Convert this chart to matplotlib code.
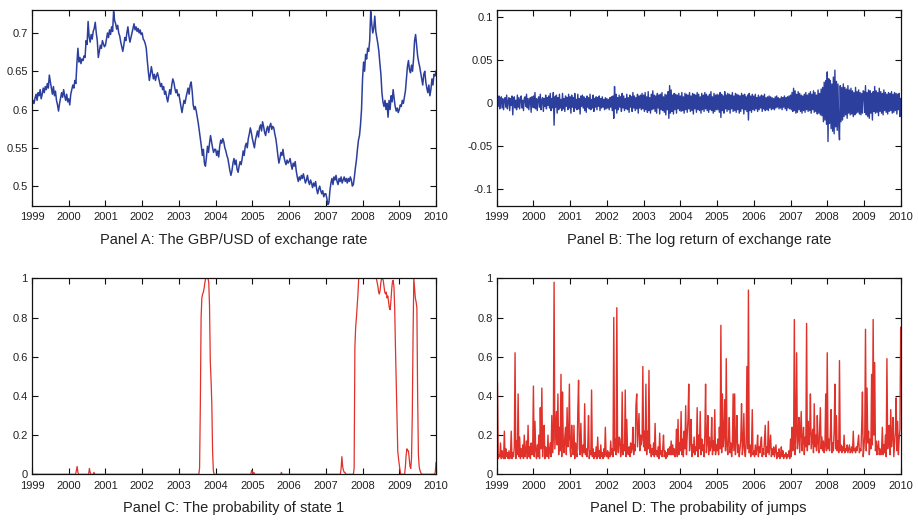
"""Four-panel GBP/USD figure: rate, log return, state-1 probability, jump probability."""

import matplotlib
matplotlib.use('Agg')
import matplotlib.pyplot as plt
import numpy as np

YEAR_TICKS = list(range(1999, 2011))
YEAR_START, YEAR_END = 1999, 2010

# Panel A: GBP per USD, ~36 readings per year, 1999 -> 2010
gbp_usd = [
    # 1999
    0.605, 0.612, 0.608, 0.615, 0.620, 0.612, 0.622, 0.618, 0.626, 0.614, 0.620, 0.628,
    0.622, 0.630, 0.626, 0.634, 0.628, 0.645, 0.636, 0.628, 0.620, 0.630, 0.618, 0.624,
    0.612, 0.606, 0.598, 0.608, 0.615, 0.622, 0.616, 0.626, 0.618, 0.612, 0.620, 0.610,
    # 2000
    0.614, 0.606, 0.620, 0.626, 0.632, 0.628, 0.638, 0.634, 0.660, 0.680, 0.662, 0.668,
    0.660, 0.666, 0.664, 0.670, 0.668, 0.690, 0.685, 0.715, 0.695, 0.688, 0.698, 0.692,
    0.702, 0.706, 0.714, 0.700, 0.690, 0.668, 0.676, 0.684, 0.680, 0.690, 0.686, 0.682,
    # 2001
    0.684, 0.692, 0.700, 0.694, 0.704, 0.698, 0.708, 0.702, 0.728, 0.716, 0.712, 0.705,
    0.710, 0.700, 0.696, 0.688, 0.682, 0.676, 0.684, 0.694, 0.690, 0.700, 0.708, 0.696,
    0.688, 0.694, 0.700, 0.706, 0.712, 0.704, 0.708, 0.702, 0.706, 0.700, 0.704, 0.698,
    # 2002
    0.700, 0.692, 0.690, 0.686, 0.680, 0.664, 0.650, 0.638, 0.646, 0.656, 0.648, 0.640,
    0.646, 0.638, 0.644, 0.648, 0.642, 0.636, 0.630, 0.634, 0.626, 0.630, 0.620, 0.624,
    0.616, 0.610, 0.618, 0.626, 0.620, 0.632, 0.640, 0.636, 0.628, 0.622, 0.626, 0.618,
    # 2003
    0.620, 0.612, 0.604, 0.596, 0.604, 0.612, 0.608, 0.616, 0.622, 0.628, 0.620, 0.632,
    0.636, 0.624, 0.606, 0.600, 0.604, 0.598, 0.590, 0.582, 0.572, 0.562, 0.552, 0.540,
    0.548, 0.530, 0.526, 0.538, 0.552, 0.544, 0.556, 0.566, 0.558, 0.550, 0.544, 0.548,
    # 2004
    0.548, 0.540, 0.546, 0.538, 0.552, 0.560, 0.556, 0.562, 0.558, 0.550, 0.546, 0.540,
    0.536, 0.528, 0.520, 0.514, 0.520, 0.530, 0.536, 0.528, 0.534, 0.522, 0.518, 0.526,
    0.532, 0.528, 0.536, 0.546, 0.540, 0.552, 0.556, 0.550, 0.562, 0.568, 0.576, 0.570,
    # 2005
    0.562, 0.556, 0.550, 0.560, 0.566, 0.572, 0.564, 0.576, 0.580, 0.572, 0.584, 0.578,
    0.570, 0.566, 0.574, 0.578, 0.570, 0.578, 0.582, 0.574, 0.578, 0.576, 0.568, 0.562,
    0.552, 0.540, 0.530, 0.536, 0.544, 0.540, 0.548, 0.538, 0.532, 0.528, 0.534, 0.530,
    # 2006
    0.532, 0.536, 0.528, 0.522, 0.530, 0.526, 0.532, 0.520, 0.512, 0.506, 0.512, 0.508,
    0.514, 0.510, 0.516, 0.510, 0.504, 0.508, 0.514, 0.506, 0.502, 0.508, 0.504, 0.498,
    0.504, 0.500, 0.506, 0.496, 0.490, 0.496, 0.500, 0.494, 0.490, 0.494, 0.486, 0.490,
    # 2007
    0.490, 0.484, 0.476, 0.478, 0.494, 0.504, 0.510, 0.502, 0.512, 0.508, 0.514, 0.506,
    0.502, 0.510, 0.506, 0.512, 0.504, 0.508, 0.512, 0.506, 0.510, 0.504, 0.510, 0.506,
    0.512, 0.508, 0.500, 0.502, 0.512, 0.524, 0.534, 0.548, 0.560, 0.566, 0.580, 0.600,
    # 2008
    0.640, 0.662, 0.650, 0.672, 0.666, 0.680, 0.676, 0.690, 0.728, 0.712, 0.700, 0.706,
    0.722, 0.702, 0.694, 0.686, 0.676, 0.660, 0.646, 0.622, 0.610, 0.604, 0.612, 0.600,
    0.608, 0.590, 0.612, 0.600, 0.618, 0.610, 0.626, 0.614, 0.604, 0.598, 0.602, 0.596,
    # 2009
    0.600, 0.606, 0.604, 0.612, 0.608, 0.616, 0.624, 0.640, 0.656, 0.664, 0.652, 0.648,
    0.658, 0.650, 0.666, 0.690, 0.698, 0.684, 0.670, 0.662, 0.656, 0.648, 0.640, 0.632,
    0.646, 0.650, 0.636, 0.628, 0.622, 0.632, 0.618, 0.626, 0.640, 0.632, 0.646, 0.644,
    # 2010
    0.650,
]

# Panel B: log return in per mille, ~48 readings per year
log_return_permil = [
    # 1999
    -12, 6, -4, 8, -7, 3, 7, -6, 5, -8, 4, 6, -5, 9, -7, 2, 6, -9, 5, -3, 8, -14, 4, 7,
    -6, 3, -8, 9, -5, 6, -7, 4, 8, -6, 3, -9, 5, 7, -4, 10, -6, 5, -8, 3, 6, -11, 7, -5,
    # 2000
    8, -6, 12, -7, 5, -9, 4, 7, -5, 10, -8, 3, 6, -10, 5, -4, 9, -7, 6, -3, 8, -6, 11, -9,
    5, -6, 12, -26, 7, -5, 9, -12, 6, -8, 10, -6, 4, -9, 11, -7, 5, -10, 8, -4, 6, -8, 10, -6,
    # 2001
    7, -12, 9, -5, 6, -10, 11, -6, 4, -8, 10, -7, 5, -13, 8, -4, 9, -6, 7, -9, 5, -11, 8, -5,
    6, -7, 10, -8, 4, -6, 9, -10, 5, -5, 7, -8, 6, -4, 8, -9, 5, -6, 7, -5, 4, -8, 6, -7,
    # 2002
    5, -6, 4, -8, 6, -5, 7, -9, 8, -18, 19, -7, 10, -12, 6, -8, 9, -5, 7, -10, 11, -6, 8, -9,
    5, -7, 10, -8, 6, -11, 9, -5, 7, -10, 12, -6, 8, -9, 6, -7, 10, -12, 8, -6, 9, -8, 11, -7,
    # 2003
    9, -10, 12, -8, 7, -11, 13, -9, 6, -12, 10, -8, 14, -7, 9, -10, 8, -12, 11, -6, 9, -13, 10, -8,
    12, -9, 7, -11, 10, -14, 9, -8, 13, -18, 20, -12, 15, -10, 9, -13, 11, -8, 10, -12, 9, -7, 11, -9,
    # 2004
    8, -10, 12, -9, 7, -12, 11, -8, 10, -11, 9, -7, 12, -10, 8, -9, 11, -13, 10, -7, 9, -11, 12, -8,
    10, -9, 7, -12, 11, -8, 9, -10, 12, -7, 10, -9, 8, -11, 10, -8, 13, -9, 7, -12, 11, -10, 9, -8,
    # 2005
    10, -8, 9, -11, 12, -17, 10, -9, 8, -12, 13, -7, 9, -10, 11, -8, 10, -12, 9, -7, 12, -10, 8, -9,
    11, -11, 10, -8, 9, -12, 8, -10, 11, -7, 9, -13, 10, -8, 7, -10, 9, -20, 11, -9, 8, -11, 10, -8,
    # 2006
    8, -9, 10, -7, 6, -10, 9, -8, 7, -6, 9, -10, 8, -7, 10, -9, 6, -8, 7, -9, 8, -6, 7, -8,
    6, -7, 5, -8, 7, -6, 8, -5, 6, -7, 5, -6, 7, -8, 6, -5, 8, -7, 6, -9, 7, -6, 8, -7,
    # 2007
    9, -8, 12, -10, 17, -9, 14, -12, 10, -11, 13, -8, 11, -10, 9, -12, 8, -9, 10, -11, 12, -8, 9, -10,
    11, -9, 13, -12, 10, -8, 14, -11, 12, -10, 9, -13, 15, -12, 11, -14, 16, -15, 18, -22, 24, -20, 26, -25,
    # 2008
    36, -45, 28, -24, 26, -30, 22, -33, 30, -36, 38, -28, 25, -32, 22, -26, -43, 20, -22, 18, -20, 22, -16, 18,
    -14, 16, -18, 20, -12, 15, -14, 17, -13, 14, -16, 12, -14, 18, -12, 13, -11, 15, -13, 12, -14, 11, -12, 14,
    # 2009
    13, -11, 20, -14, 12, -16, 15, -18, 14, -12, 11, -20, 13, -10, 19, -12, 14, -11, 12, -15, 17, -10, 13, -12,
    11, -14, 15, -9, 12, -11, 10, -13, 12, -10, 11, -9, 13, -12, 10, -11, 12, -9, 11, -13, 10, -8, 11, -16,
    # 2010
    5,
]

# Panel C: probability of state 1 in percent, 48 readings per year
state1_prob_pct = [
    # 1999
    0, 0, 0, 0, 0, 0, 0, 0, 0, 0, 0, 0, 0, 0, 0, 0, 0, 0, 0, 0, 0, 0, 0, 0,
    0, 0, 0, 0, 0, 0, 0, 0, 0, 0, 0, 0, 0, 0, 0, 0, 0, 0, 0, 0, 0, 0, 0, 0,
    # 2000
    0, 0, 0, 0, 0, 0, 0, 0, 0, 0, 2, 4, 1, 0, 0, 0, 0, 0, 0, 0, 0, 0, 0, 0,
    0, 0, 0, 3, 1, 0, 0, 0, 0, 1, 0, 0, 0, 0, 0, 0, 0, 0, 0, 0, 0, 0, 0, 0,
    # 2001
    0, 0, 0, 0, 0, 0, 0, 0, 0, 0, 0, 0, 0, 0, 0, 0, 0, 0, 0, 0, 0, 0, 0, 0,
    0, 0, 0, 0, 0, 0, 0, 0, 0, 0, 0, 0, 0, 0, 0, 0, 0, 0, 0, 0, 0, 0, 0, 0,
    # 2002
    0, 0, 0, 0, 0, 0, 0, 0, 0, 0, 0, 0, 0, 0, 0, 0, 0, 0, 0, 0, 0, 0, 0, 0,
    0, 0, 0, 0, 0, 0, 0, 0, 0, 0, 0, 0, 0, 0, 0, 0, 0, 0, 0, 0, 0, 0, 0, 0,
    # 2003
    0, 0, 0, 0, 0, 0, 0, 0, 0, 0, 0, 0, 0, 0, 0, 0, 0, 0, 0, 0, 0, 0, 0, 0,
    0, 0, 0, 3, 35, 80, 90, 92, 93, 95, 98, 100, 100, 100, 100, 98, 86, 58, 48, 36, 12, 2, 0, 0,
    # 2004
    0, 0, 0, 0, 0, 0, 0, 0, 0, 0, 0, 0, 0, 0, 0, 0, 0, 0, 0, 0, 0, 0, 0, 0,
    0, 0, 0, 0, 0, 0, 0, 0, 0, 0, 0, 0, 0, 0, 0, 0, 0, 0, 0, 0, 0, 0, 0, 2,
    # 2005
    1, 0, 1, 0, 0, 0, 0, 0, 0, 0, 0, 0, 0, 0, 0, 0, 0, 0, 0, 0, 0, 0, 0, 0,
    0, 0, 0, 0, 0, 0, 0, 0, 0, 0, 0, 0, 0, 0, 1, 0, 0, 0, 0, 0, 0, 0, 0, 0,
    # 2006
    0, 0, 0, 0, 0, 0, 0, 0, 0, 0, 0, 0, 0, 0, 0, 0, 0, 0, 0, 0, 0, 0, 0, 0,
    0, 0, 0, 0, 0, 0, 0, 0, 0, 0, 0, 0, 0, 0, 0, 0, 0, 0, 0, 0, 0, 0, 0, 0,
    # 2007
    0, 0, 0, 0, 0, 0, 0, 0, 0, 0, 0, 0, 0, 0, 0, 0, 0, 0, 0, 0, 3, 9, 4, 2,
    1, 1, 0, 0, 0, 0, 0, 0, 0, 0, 0, 0, 0, 3, 65, 75, 80, 86, 92, 100, 100, 100, 100, 100,
    # 2008
    100, 100, 100, 100, 100, 100, 100, 100, 100, 100, 100, 100, 100, 100, 100, 100, 100, 100, 100, 98, 96, 93, 92, 94,
    98, 100, 100, 99, 96, 93, 92, 93, 90, 91, 88, 85, 84, 88, 94, 98, 99, 96, 85, 65, 48, 30, 12, 8,
    # 2009
    5, 2, 0, 0, 0, 0, 0, 0, 4, 10, 13, 12, 12, 8, 4, 3, 8, 30, 70, 100, 95, 90, 88, 85,
    40, 10, 4, 2, 1, 0, 0, 0, 0, 0, 0, 0, 0, 0, 0, 0, 0, 0, 0, 0, 0, 0, 0, 1,
    # 2010
    6,
]

# Panel D: probability of jumps in percent, 48 readings per year
jump_prob_pct = [
    # 1999
    9, 47, 8, 10, 9, 16, 8, 12, 9, 8, 22, 8, 13, 9, 11, 8, 12, 8, 10, 22, 8, 11, 9, 14,
    62, 8, 17, 10, 41, 9, 19, 8, 13, 9, 15, 8, 20, 9, 12, 17, 8, 25, 9, 14, 8, 16, 10, 12,
    # 2000
    45, 9, 27, 12, 8, 15, 9, 20, 8, 34, 13, 44, 9, 18, 25, 8, 14, 10, 9, 20, 8, 12, 16, 9,
    30, 11, 18, 98, 13, 22, 32, 15, 41, 10, 24, 12, 51, 9, 42, 16, 11, 19, 24, 10, 34, 14, 18, 46,
    # 2001
    12, 9, 25, 14, 10, 25, 8, 16, 11, 9, 32, 48, 13, 10, 26, 12, 9, 15, 11, 36, 10, 13, 9, 14,
    30, 8, 12, 10, 43, 9, 13, 8, 11, 9, 14, 8, 19, 9, 12, 8, 15, 9, 11, 8, 13, 9, 24, 10,
    # 2002
    9, 12, 8, 11, 9, 17, 10, 13, 9, 80, 12, 18, 10, 85, 14, 11, 19, 18, 9, 13, 42, 10, 15, 12,
    43, 9, 28, 12, 10, 14, 9, 16, 11, 13, 24, 10, 15, 12, 35, 41, 14, 22, 31, 12, 20, 15, 18, 55,
    # 2003
    14, 22, 12, 46, 10, 22, 13, 53, 11, 15, 9, 13, 10, 16, 9, 26, 10, 12, 9, 14, 8, 21, 10, 12,
    9, 13, 20, 9, 12, 8, 11, 9, 13, 10, 14, 10, 17, 10, 15, 10, 13, 9, 12, 23, 9, 28, 10, 16,
    # 2004
    12, 32, 10, 18, 9, 22, 13, 35, 10, 20, 28, 46, 12, 17, 28, 9, 15, 11, 19, 10, 14, 12, 34, 9,
    20, 13, 32, 10, 18, 12, 15, 9, 20, 46, 11, 16, 30, 10, 19, 12, 14, 29, 10, 17, 12, 33, 10, 15,
    # 2005
    12, 18, 10, 24, 13, 76, 11, 41, 14, 20, 38, 12, 59, 15, 10, 18, 29, 11, 16, 9, 14, 41, 12, 41,
    10, 17, 30, 11, 15, 9, 13, 18, 36, 10, 14, 31, 12, 9, 16, 55, 13, 94, 11, 15, 9, 13, 33, 10,
    # 2006
    12, 9, 15, 10, 13, 20, 9, 14, 11, 16, 19, 9, 13, 10, 17, 25, 9, 14, 11, 27, 10, 15, 20, 9,
    13, 10, 14, 9, 12, 15, 8, 11, 9, 13, 8, 10, 14, 9, 12, 8, 10, 9, 11, 8, 10, 9, 12, 8,
    # 2007
    18, 9, 24, 12, 16, 79, 10, 20, 62, 13, 18, 29, 11, 22, 32, 12, 17, 24, 10, 19, 14, 77, 12, 27,
    15, 21, 41, 13, 18, 23, 11, 36, 14, 20, 12, 30, 16, 11, 22, 34, 13, 19, 12, 17, 11, 15, 41, 12,
    # 2008
    62, 13, 18, 12, 20, 33, 11, 16, 12, 22, 46, 13, 30, 12, 17, 11, 58, 12, 15, 11, 14, 12, 20, 11,
    13, 12, 15, 11, 13, 15, 11, 12, 14, 11, 22, 12, 13, 11, 14, 12, 16, 20, 11, 13, 12, 24, 42, 9,
    # 2009
    14, 20, 74, 12, 44, 16, 22, 10, 18, 13, 51, 15, 79, 20, 57, 12, 17, 10, 14, 17, 10, 13, 10, 12,
    24, 10, 15, 11, 20, 9, 59, 13, 18, 25, 10, 33, 14, 20, 29, 9, 16, 22, 39, 12, 27, 10, 18, 23,
    # 2010
    75,
]

BLUE = '#2c3f9d'
RED = '#e0312a'
TEXT = '#222222'


def _dates(values):
    return np.linspace(YEAR_START, YEAR_END, len(values))


def _style(ax, yticks, ylabels, ylim):
    ax.set_xlim(YEAR_START, YEAR_END)
    ax.set_ylim(*ylim)
    ax.set_xticks(YEAR_TICKS)
    ax.set_xticklabels([str(y) for y in YEAR_TICKS])
    ax.set_yticks(yticks)
    ax.set_yticklabels(ylabels)
    ax.tick_params(direction='in', length=4, width=0.8, top=True, right=True,
                   labelsize=8, colors='#111111', labelcolor=TEXT, pad=3)
    ax.tick_params(axis='x', pad=4.5)
    for sp in ax.spines.values():
        sp.set_linewidth(0.9)
        sp.set_color('#111111')


def main():
    plt.rcParams['font.family'] = ['Liberation Sans', 'DejaVu Sans']
    fig = plt.figure(figsize=(9.18, 5.2), dpi=100)

    w, h = 404 / 918, 196 / 520
    left_l, left_r = 32 / 918, 496.7 / 918
    bot_t, bot_b = 314 / 520, 45.7 / 520

    ax_a = fig.add_axes([left_l, bot_t, w, h])
    ax_b = fig.add_axes([left_r, bot_t, w, h])
    ax_c = fig.add_axes([left_l, bot_b, w, h])
    ax_d = fig.add_axes([left_r, bot_b, w, h])

    ax_a.plot(_dates(gbp_usd), gbp_usd, color=BLUE, lw=1.1)
    _style(ax_a, [0.5, 0.55, 0.6, 0.65, 0.7], ['0.5', '0.55', '0.6', '0.65', '0.7'],
           (0.474, 0.730))

    ret = np.array(log_return_permil) / 1000.0
    ax_b.plot(_dates(ret), ret, color=BLUE, lw=1.0)
    _style(ax_b, [-0.1, -0.05, 0, 0.05, 0.1], ['-0.1', '-0.05', '0', '0.05', '0.1'],
           (-0.12, 0.108))

    prob_ticks = [0, 0.2, 0.4, 0.6, 0.8, 1]
    prob_labels = ['0', '0.2', '0.4', '0.6', '0.8', '1']
    p1 = np.array(state1_prob_pct) / 100.0
    ax_c.plot(_dates(p1), p1, color=RED, lw=0.9)
    _style(ax_c, prob_ticks, prob_labels, (0, 1))

    pj = np.array(jump_prob_pct) / 100.0
    ax_d.plot(_dates(pj), pj, color=RED, lw=1.0)
    _style(ax_d, prob_ticks, prob_labels, (0, 1))

    titles = [
        (ax_a, 'Panel A: The GBP/USD of exchange rate', 1 - 240 / 520),
        (ax_b, 'Panel B: The log return of exchange rate', 1 - 240 / 520),
        (ax_c, 'Panel C: The probability of state 1', 1 - 508 / 520),
        (ax_d, 'Panel D: The probability of jumps', 1 - 508 / 520),
    ]
    for ax, text, y in titles:
        pos = ax.get_position()
        fig.text(pos.x0 + pos.width / 2, y, text, ha='center', va='center',
                 fontsize=10.5, color=TEXT)

    fig.savefig('out.png', dpi=100)
    plt.close(fig)


if __name__ == '__main__':
    main()
